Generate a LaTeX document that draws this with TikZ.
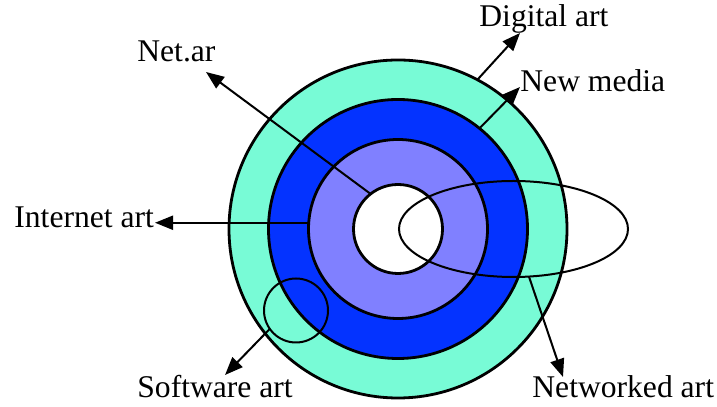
\documentclass[tikz,border=0pt]{standalone}
\usepackage{xcolor}
\usepackage{fontspec}
\setmainfont{Liberation Serif}
\usetikzlibrary{arrows.meta}
\usetikzlibrary{shapes.geometric}
\definecolor{aqua}{RGB}{120,251,214}
\definecolor{deepblue}{RGB}{4,51,255}
\definecolor{lilac}{RGB}{128,128,255}
\tikzset{ring/.style={circle, draw, line width=1.4bp, inner sep=0pt, outer sep=0pt},
        thin ring/.style={draw, line width=1bp, inner sep=0pt, outer sep=0pt},
        arr/.style={-{Triangle[length=9bp,width=7bp]}, line width=1bp},
        lbl/.style={inner sep=0pt, anchor=base west, font=\fontsize{15.8bp}{19bp}\selectfont}}
\begin{document}
\begin{tikzpicture}[x=0.5bp,y=-0.5bp]
    \useasboundingbox (0,0) rectangle (717,407);

    \node[ring, fill=aqua, minimum size=169bp] (digital) at (398,229) {};
    \node[ring, fill=deepblue, minimum size=129.5bp] (media) at (398,229) {};
    \node[ring, fill=lilac, minimum size=89.5bp] (inet) at (398,229) {};
    \node[ring, fill=white, minimum size=44.5bp] (core) at (398,229) {};

    \node[thin ring, ellipse, minimum width=114.5bp, minimum height=48bp] (netw) at (513.5,229) {};
    \node[thin ring, circle, minimum size=32bp] (soft) at (296,310.5) {};

    \node[lbl] (netar) at (137,62) {Net.ar};
    \node[lbl] (inetart) at (14,228) {Internet art};
    \node[lbl] (digart) at (479,27) {Digital art};
    \node[lbl] (newmedia) at (520,92) {New media};
    \node[lbl] (softart) at (137,398) {Software art};
    \node[lbl] (netwart) at (532,398) {Networked art};

    \coordinate (tipnetar) at (206,72);
    \coordinate (tipinet) at (155,223);
    \coordinate (tipdig) at (520,33);
    \coordinate (tipmedia) at (520,87);
    \coordinate (tipsoft) at (225,375);
    \coordinate (tipnetw) at (563,377);

    \draw[arr] (core.128) -- (tipnetar);
    \draw[arr] (inet.176) -- (inet.176 -| tipinet);
    \draw[arr] (digital.62) -- (tipdig);
    \draw[arr] (media.51) -- (tipmedia);
    \draw[arr] (soft.215) -- (tipsoft);
    \draw[arr] (netw.-72) -- (tipnetw);
\end{tikzpicture}
\end{document}
